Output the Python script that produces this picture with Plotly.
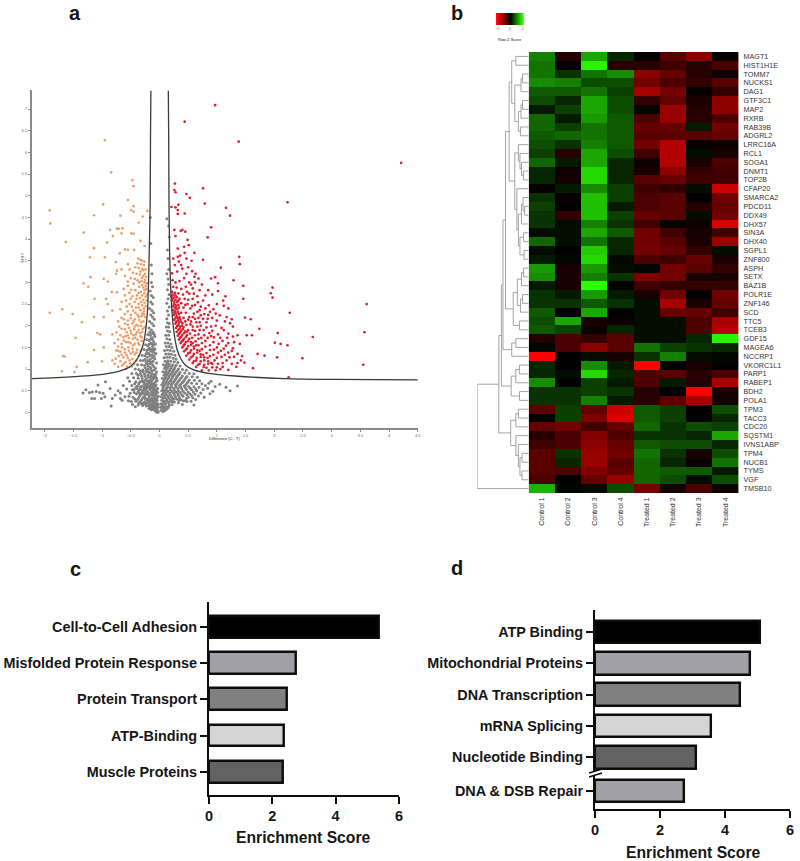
import plotly.graph_objects as go

W, H = 800, 861

# panel a: volcano plot, points as (difference, -log p)
grey_points = [
    (-.16,4.5),(-.15,3.9),(-.14,3.4),(-.13,3.2),(-.14,3.0),(-.12,2.9),(-.16,2.8),(-.14,2.7),(-.11,2.65),(-.15,2.55),
    (-.12,2.5),(-.17,2.4),(-.13,2.35),(-.1,2.3),(-.15,2.25),(-.12,2.2),(-.09,2.15),(-.17,2.1),(-.13,2.05),(-.1,2.0),
    (-.18,1.95),(-.14,1.9),(-.11,1.85),(-.2,1.8),(-.16,1.78),(-.08,1.75),(-.13,1.72),(-.22,1.68),(-.18,1.66),(-.1,1.63),
    (-.15,1.6),(-.07,1.58),(-.24,1.56),(-.2,1.53),(-.12,1.52),(-.17,1.48),(-.08,1.47),(-.27,1.45),(-.22,1.43),(-.14,1.41),
    (-.1,1.38),(-.19,1.37),(-.06,1.36),(-.3,1.32),(-.25,1.31),(-.16,1.3),(-.21,1.27),(-.12,1.26),(-.08,1.24),(-.33,1.2),
    (-.28,1.2),(-.18,1.18),(-.23,1.16),(-.14,1.15),(-.05,1.14),(-.38,1.1),(-.31,1.1),(-.26,1.08),(-.2,1.07),(-.1,1.06),
    (-.16,1.04),(-.07,1.02),(-.42,1.0),(-.36,.99),(-.29,.98),(-.23,.97),(-.13,.96),(-.18,.94),(-.05,.93),(-.48,.9),
    (-.4,.9),(-.33,.89),(-.26,.88),(-.1,.87),(-.2,.86),(-.15,.84),(-.07,.83),(-.55,.8),(-.45,.8),(-.37,.79),
    (-.3,.78),(-.23,.77),(-.12,.76),(-.17,.74),(-.04,.73),(-.52,.72),(-.41,.71),(-.34,.7),(-.27,.69),(-.09,.68),
    (-.2,.67),(-.14,.65),(-.06,.64),(-.63,.62),(-.48,.62),(-.38,.61),(-.31,.6),(-.24,.59),(-.11,.58),(-.17,.56),
    (-.03,.55),(-.57,.54),(-.44,.53),(-.35,.52),(-.28,.51),(-.08,.5),(-.21,.49),(-.14,.47),(-.05,.46),(-.68,.45),
    (-.51,.44),(-.4,.43),(-.32,.42),(-.25,.41),(-.11,.4),(-.18,.38),(-.02,.37),(-.6,.36),(-.46,.35),(-.36,.34),
    (-.29,.33),(-.07,.32),(-.22,.31),(-.15,.29),(-.04,.28),(-.54,.27),(-.41,.26),(-.33,.25),(-.26,.24),(-.1,.23),
    (-.19,.22),(-.13,.2),(-.02,.19),(-.47,.18),(-.37,.17),(-.29,.16),(-.23,.15),(-.07,.14),(-.17,.13),(-.11,.11),
    (-.04,.09),(-.14,.06),(-.08,.05),(-.03,.04),(-.06,.02),(-.02,.01),
    (-.42,.13),(-.04,.0),(-.09,.12),(-.05,.17),(-.12,.16),(-.16,.18),
    (-.2,.27),(-.24,.3),(-.27,.36),(-.22,.42),(-.15,.41),(-.09,.37),(-.06,.29),(-.06,.41),(-.09,.26),(-.13,.34),
    (-.18,.33),(-.12,.47),(-.16,.52),(-.2,.57),(-.25,.53),(-.3,.47),(-.34,.39),(-.09,.54),(-.13,.59),(-.07,.6),
    (-.16,.62),(-.22,.64),(-.27,.63),(-.33,.59),(-.39,.55),(-.1,.66),(-.14,.71),(-.18,.7),(-.25,.74),(-.31,.72),
    (-.06,.72),(-.09,.79),(-.14,.8),(-.19,.81),(-.25,.83),(-.31,.84),(-.37,.86),(-.07,.88),(-.13,.9),(-.17,.91),
    (-.22,.93),(-.28,.93),(-.33,.95),(-.09,.98),(-.15,1.0),(-.2,1.0),(-.25,1.03),(-.12,1.1),(-.17,1.12),(-.22,1.12),
    (-.11,1.18),(-.16,1.22),(-.2,1.2),(-.25,1.22),(-.09,1.3),(-.13,1.33),(-.18,1.34),(-.23,1.36),(-.09,1.44),(-.12,1.46),
    (-.16,1.44),(-.2,1.45),(-.1,1.56),(-.13,1.58),(-.18,1.57),(-.12,1.68),(-.15,1.7),(-.09,1.8),(-.13,1.82),(-.17,1.85),
    (-.05,.08),(-.08,.09),(-.11,.07),(-.15,.1),(-.18,.09),(-.03,.13),(-.06,.11),(-.1,.15),
    (-.14,.14),(-.19,.16),(-.24,.19),(-.28,.21),(-.05,.22),(-.08,.19),(-.12,.24),(-.16,.25),(-.21,.23),(-.31,.2),
    (-.36,.22),(-.04,.34),(-.08,.31),(-.11,.29),(-.17,.28),(-.25,.34),(-.31,.29),(-.38,.3),(-.43,.31),(-.49,.25),
    (-.03,.46),(-.07,.45),(-.1,.44),(-.14,.41),(-.19,.44),(-.24,.47),(-.28,.44),(-.35,.45),(-.44,.46),(-.53,.37),
    (-.05,.52),(-.11,.52),(-.15,.56),(-.19,.61),(-.23,.55),(-.27,.57),(-.33,.53),(-.37,.48),(-.41,.58),(-.47,.52),
    (-.08,.62),(-.12,.64),(-.16,.68),(-.21,.72),(-.25,.66),(-.29,.72),(-.36,.66),(-.43,.66),(-.05,.79),(-.11,.81),
    (-1.33,.45),(-1.28,.52),(-1.18,.32),(-1.17,.47),(-1.1,.48),(-1.07,.63),(-1.04,.46),(-.98,.44),(-.95,.36),(-.94,.71),
    (-.84,.15),(-.82,.32),(-.72,.5),(-.68,.32),(-.65,.28),(-1.13,.32),(-1.01,.32),(-1.22,.46),(-.86,.55),(-.77,.4),
    (.03,.05),(.06,.02),(.02,.12),(.09,.04),(.05,.1),(.12,.07),(.03,.2),(.08,.14),(.15,.1),
    (.04,.28),(.11,.2),(.17,.17),(.22,.18),(.07,.27),(.14,.26),(.2,.25),
    (.26,.24),(.33,.22),(.4,.18),(.48,.25),(.03,.36),(.1,.34),(.16,.33),(.23,.32),(.3,.31),(.37,.29),
    (.45,.27),(.55,.26),(.6,.17),(.05,.42),(.12,.41),(.19,.41),(.26,.4),(.33,.39),(.41,.37),(.5,.35),
    (.58,.34),(.68,.38),(.04,.5),(.09,.48),(.15,.49),(.22,.48),(.29,.47),(.36,.46),(.44,.45),(.53,.43),
    (.62,.42),(.72,.45),(.06,.57),(.12,.56),(.18,.57),(.25,.56),(.32,.55),(.39,.54),(.47,.53),(.56,.52),
    (.65,.5),(.76,.53),(.84,.56),(.04,.64),(.09,.63),(.15,.65),(.21,.64),(.28,.63),(.35,.62),(.43,.61),
    (.51,.6),(.6,.59),(.69,.58),(.8,.62),(.07,.71),(.13,.72),(.19,.72),(.25,.71),(.32,.7),(.4,.69),
    (.48,.68),(.56,.67),(.65,.66),(.74,.66),(.86,.67),(.05,.79),(.1,.79),(.16,.8),(.22,.79),(.29,.78),
    (.36,.77),(.44,.76),(.52,.75),(.61,.74),(.7,.73),(.08,.86),(.13,.87),(.19,.87),(.25,.86),(.32,.85),
    (.4,.84),(.48,.83),(.57,.82),(.66,.81),(.06,.94),(.11,.94),(.17,.95),(.23,.94),(.29,.93),(.36,.92),
    (.44,.91),(.52,.9),(.6,.89),(.09,1.02),(.14,1.03),(.2,1.02),(.26,1.01),(.33,1.0),(.4,.99),(.47,.97),
    (.07,1.1),(.12,1.1),(.17,1.11),(.23,1.1),(.29,1.09),(.36,1.07),(.1,1.18),(.15,1.19),(.2,1.18),(.26,1.17),
    (.32,1.15),(.08,1.26),(.13,1.27),(.18,1.27),(.24,1.25),(.29,1.23),(.11,1.35),(.16,1.35),(.21,1.34),(.27,1.32),
    (.09,1.43),(.14,1.44),(.19,1.43),(.25,1.41),(.12,1.52),(.17,1.52),(.22,1.5),(.1,1.6),(.15,1.6),(.2,1.58),
    (.13,1.7),(.18,1.68),(.11,1.78),(.16,1.78),(.14,1.88),(.18,1.86),(.12,1.97),(.16,1.97),(.14,2.07),(.17,2.05),
    (.13,2.16),(.16,2.25),(.14,2.34),(.17,2.43),(.13,2.52),(.15,2.62),(.17,2.72),(.14,2.83),(.16,2.95),(.15,3.08),
    (.13,3.2),(.16,3.3),(.15,3.55),(.14,3.75),(.17,4.05),(.16,4.3),(.13,4.47),
    (.05,.16),(.08,.09),(.12,.13),(.16,.14),(.07,.21),(.1,.25),(.16,.22),(.23,.25),
    (.06,.33),(.13,.3),(.19,.29),(.25,.31),(.34,.28),(.41,.27),(.08,.39),(.15,.37),(.21,.36),(.28,.36),
    (.35,.34),(.47,.32),(.07,.45),(.12,.46),(.18,.44),(.25,.44),(.32,.43),(.39,.41),(.48,.41),(.56,.39),
    (.07,.52),(.12,.51),(.19,.52),(.26,.51),(.33,.5),(.41,.49),(.5,.47),(.59,.47),(.07,.6),(.14,.6),
    (.21,.59),(.29,.59),(.37,.58),(.45,.57),(.54,.56),(.63,.54),(.06,.68),(.11,.68),(.17,.68),(.23,.67),
    (.3,.66),(.37,.65),(.46,.64),(.08,.75),(.14,.76),(.2,.75),(.27,.74),(.34,.73),(.42,.72),(.5,.71),
    (.11,.83),(.17,.84),(.23,.83),(.3,.81),(.38,.8),(.46,.8),(.1,.9),(.15,.91),(.21,.9),(.27,.89),
    (.34,.88),(.12,.98),(.18,.98),(.24,.97),(.31,.96),(.11,1.06),(.16,1.07),(.21,1.06),(.27,1.05),(.14,1.15),
    (1.23,.5),(1.16,.58),(1.36,.61),(.9,.72),(.97,.6),(1.05,.65),(.93,.49),(.88,.43),(.78,.35),(.63,.3),
]

red_points = [
    (.97,7.09),(.44,6.71),(1.38,6.25),(4.21,5.76),(2.23,4.85),(.27,5.28),(.76,5.17),(.26,5.13),(.28,5.08),(.47,5.04),
    (.53,4.95),(.79,4.82),(.33,4.79),(.21,4.74),(.28,4.73),(1.16,4.72),(.32,4.67),(.44,4.59),(.32,4.58),(1.23,4.54),
    (.9,4.27),(.26,4.21),(.37,4.19),(.4,4.21),(.45,4.17),(.84,4.04),(.28,4.07),(.49,3.98),(.51,3.86),(.43,3.82),
    (.32,3.78),(.61,3.68),(.44,3.68),(.32,3.59),(1.39,3.59),(.76,3.52),(1.4,3.42),(1.07,3.34),(.34,3.48),(.27,3.4),
    (.4,3.32),(.31,3.25),(.22,3.21),(1.29,3.05),(.61,3.13),(.68,3.09),(.9,3.09),(.97,3.12),(1.02,2.98),(1.46,2.92),
    (1.97,2.88),(1.94,2.75),(1.97,2.65),(1.46,2.62),(3.61,2.5),(2.27,2.3),(1.49,2.19),(1.59,2.15),(1.74,1.93),(2.06,1.83),
    (3.57,1.85),(2.67,1.74),(1.61,1.78),(1.52,1.78),(2.01,1.61),(2.11,1.58),(2.23,1.55),(2.05,1.27),(2.49,1.25),(3.55,1.1),
    (1.71,1.35),(1.83,1.31),(1.63,1.02),(2.25,.81),(.36,3.62),(.47,3.55),(.56,3.5),(.38,3.4),(.24,3.55),(.5,3.35),
    (.23,3.05),(.28,3.0),(.35,3.03),(.43,3.1),(.52,3.0),(.62,3.0),(.74,2.95),(.24,2.9),(.3,2.88),(.38,2.85),
    (.46,2.9),(.58,2.86),(.85,2.82),(1.02,2.8),(.22,2.78),(.27,2.76),(.33,2.75),(.41,2.72),(.52,2.74),(.66,2.68),
    (.92,2.72),(1.15,2.68),(.21,2.68),(.25,2.65),(.3,2.66),(.35,2.62),(.44,2.62),(.58,2.62),(.76,2.58),(1.11,2.58),
    (.22,2.58),(.26,2.55),(.31,2.55),(.38,2.52),(.49,2.5),(.62,2.48),(.86,2.47),(1.0,2.5),(1.12,2.46),(.24,2.45),
    (.29,2.44),(.34,2.42),(.42,2.42),(.54,2.4),(.7,2.36),(.94,2.38),(1.2,2.4),(.23,2.36),(.27,2.33),(.32,2.32),
    (.38,2.3),(.46,2.3),(.6,2.28),(.78,2.27),(.85,2.25),(1.05,2.24),(.25,2.25),(.3,2.22),(.35,2.2),(.42,2.18),
    (.52,2.2),(.68,2.18),(.76,2.16),(.92,2.18),(1.17,2.2),(1.26,2.15),(.26,2.14),(.32,2.12),(.37,2.1),(.45,2.1),
    (.55,2.1),(.64,2.08),(.82,2.08),(1.23,2.06),(.28,2.05),(.33,2.02),(.39,2.0),(.47,2.02),(.58,1.98),(.72,2.0),
    (.9,1.98),(1.28,1.98),(.29,1.95),(.35,1.93),(.41,1.92),(.5,1.9),(.62,1.88),(.77,1.9),(1.12,1.9),(.3,1.86),
    (.36,1.84),(.43,1.83),(.53,1.82),(.68,1.8),(.87,1.83),(1.02,1.8),(1.2,1.82),(.32,1.77),(.38,1.75),(.46,1.74),
    (.57,1.72),(.73,1.72),(.95,1.73),(1.28,1.75),(.34,1.68),(.41,1.66),(.5,1.65),(.63,1.64),(.8,1.65),(1.1,1.65),
    (1.2,1.6),(.37,1.6),(.44,1.57),(.55,1.56),(.68,1.55),(.88,1.55),(1.03,1.58),(1.4,1.58),(.4,1.5),(.48,1.47),
    (.6,1.47),(.74,1.46),(.95,1.45),(1.12,1.47),(.43,1.41),(.53,1.38),(.66,1.38),(.82,1.37),(1.02,1.38),(1.2,1.38),
    (1.36,1.35),(.47,1.31),(.58,1.3),(.72,1.28),(.88,1.3),(1.08,1.28),(1.3,1.28),(.52,1.22),(.64,1.2),(.78,1.2),
    (.96,1.2),(1.17,1.2),(1.42,1.2),(.58,1.14),(.7,1.12),(.85,1.12),(1.02,1.12),(1.26,1.12),(1.48,1.15),(.64,1.05),
    (.77,1.05),(.92,1.04),(1.1,1.05),(1.34,1.05),(.74,.97),(.98,.97),(1.2,.98),
    (.24,2.72),(.28,2.7),(.23,2.62),(.28,2.6),(.33,2.58),(.25,2.5),(.28,2.48),(.33,2.48),(.27,2.4),(.31,2.38),
    (.26,2.3),(.29,2.28),(.34,2.27),(.28,2.18),(.32,2.17),(.36,2.15),(.29,2.09),(.34,2.07),(.4,2.06),(.31,1.99),
    (.36,1.98),(.42,1.97),(.33,1.9),(.38,1.88),(.45,1.87),(.34,1.81),(.4,1.79),(.48,1.78),(.36,1.72),(.43,1.7),
    (.52,1.7),(.39,1.64),(.46,1.62),(.55,1.62),(.42,1.54),(.5,1.53),(.6,1.52),(.46,1.45),(.55,1.43),(.66,1.44),
    (.5,1.36),(.6,1.35),(.72,1.34),(.55,1.27),(.65,1.26),(.78,1.27),(.6,1.18),(.72,1.18),(.85,1.18),(.67,1.1),
    (.78,1.1),(.92,1.12),(.82,1.03),(1.0,1.04),(.86,.97),
    (.57,3.26),(.63,3.2),(.47,3.2),(.55,2.95),(.7,2.82),(.48,2.78),(.6,2.74),(.8,2.7),(.5,2.6),(.67,2.54),
    (.72,2.44),(.57,2.46),(.45,2.48),(.8,2.4),(.66,2.32),(.88,2.32),(.58,2.2),(.72,2.24),(.98,2.28),(.5,2.14),
    (.62,2.16),(.84,2.16),(1.0,2.12),(1.14,2.1),(.7,2.08),(.54,2.03),(.66,1.98),(.82,1.96),(.98,2.0),(1.08,1.95),
    (.58,1.9),(.7,1.9),(.92,1.88),(.48,1.86),(.62,1.78),(.78,1.78),(.9,1.76),(1.06,1.72),(1.18,1.72),(1.36,1.78),
    (.68,1.7),(.84,1.72),(.58,1.6),(.74,1.6),(.94,1.62),(1.16,1.54),(1.3,1.62),(.64,1.55),(.8,1.52),(1.0,1.5),
    (1.28,1.48),(.7,1.42),(.88,1.44),(1.07,1.42),(1.26,1.42),(.76,1.33),(.94,1.33),(1.14,1.33),(1.44,1.3),(.84,1.26),
    (1.0,1.26),(1.22,1.27),(.9,1.14),(1.1,1.14),(1.36,1.14),(1.06,1.0),
]

orange_points = [
    (-.95,6.28),(-.84,5.54),(-.47,5.36),(-.45,5.22),(-.55,4.9),(-.98,4.8),(-.45,4.76),(-1.91,4.66),(-.49,4.67),(-.45,4.63),
    (-.21,4.65),(-1.14,4.55),(-.68,4.54),(-.29,4.52),(-1.9,4.36),(-.36,4.38),(-.74,4.24),(-.71,4.24),(-.64,4.25),(-.86,4.21),
    (-1.32,4.15),(-.49,4.13),(-.45,4.12),(-.66,4.13),(-.81,4.07),(-1.63,3.93),(-.33,3.96),(-.91,3.92),(-.26,3.84),(-1.14,3.79),
    (-.6,3.76),(-.55,3.75),(-.44,3.75),(-.69,3.67),(-.95,3.58),(-1.21,3.58),(-.76,3.47),(-.37,3.55),(-.33,3.52),(-.3,3.5),
    (-.26,3.48),(-.38,3.44),(-.32,3.42),(-.27,3.4),(-.55,3.42),(-.42,3.35),(-.36,3.33),(-.3,3.31),(-.24,3.3),(-.74,3.27),
    (-.66,3.3),(-1.2,3.12),(-.97,3.08),(-.9,3.02),(-.4,3.2),(-.34,3.18),(-.28,3.15),(-.23,3.13),(-.5,3.1),(-.75,3.2),
    (-.38,3.05),(-.31,3.03),(-.26,3.0),(-.22,2.98),(-.45,2.97),(-1.32,2.98),(-1.24,2.9),(-.55,2.92),(-.35,2.9),(-.28,2.88),
    (-.23,2.85),(-.49,2.83),(-.42,2.82),(-.83,2.78),(-.74,2.77),(-.32,2.78),(-.26,2.75),(-.21,2.72),(-.39,2.7),(-.47,2.68),
    (-1.13,2.62),(-.93,2.62),(-.34,2.64),(-.28,2.6),(-.22,2.58),(-.58,2.58),(-.43,2.55),(-.9,2.5),(-.52,2.5),(-.36,2.5),
    (-.3,2.47),(-.24,2.45),(-1.91,2.3),(-1.69,2.38),(-.82,2.35),(-.41,2.42),(-.46,2.35),(-.33,2.36),(-.27,2.33),(-.55,2.33),
    (-1.51,2.27),(-.6,2.27),(-.38,2.25),(-.31,2.22),(-.25,2.2),(-.66,2.18),(-1.14,2.2),(-.97,2.2),(-.5,2.17),(-.43,2.15),
    (-.35,2.13),(-.28,2.1),(-1.35,2.08),(-.6,2.05),(-.47,2.05),(-.4,2.02),(-.32,2.0),(-.26,1.97),(-.53,1.95),(-.66,1.93),
    (-.44,1.92),(-.36,1.9),(-.3,1.86),(-1.08,1.83),(-1.03,1.8),(-.57,1.85),(-.49,1.82),(-.82,1.8),(-.41,1.8),(-.33,1.76),
    (-.63,1.74),(-.53,1.72),(-.46,1.7),(-1.46,1.72),(-.38,1.68),(-.31,1.65),(-.58,1.62),(-.5,1.6),(-.43,1.58),(-.35,1.56),
    (-1.14,1.44),(-.97,1.5),(-.75,1.43),(-.72,1.52),(-.65,1.5),(-.54,1.5),(-.47,1.47),(-.39,1.45),(-.33,1.42),(-.68,1.4),
    (-.6,1.38),(-.5,1.36),(-.43,1.34),(-.36,1.3),(-1.68,1.3),(-1.65,1.29),(-.71,1.3),(-.63,1.27),(-.55,1.26),(-.47,1.23),
    (-.4,1.2),(-1.25,1.16),(-1.0,1.18),(-.82,1.2),(-.68,1.18),(-.59,1.16),(-.51,1.13),(-1.44,1.05),(-.44,1.12),(-1.7,.95),
    (-1.48,.93),(-.65,1.08),(-.56,1.06),(-.72,1.05),
    (-.28,3.28),(-.33,3.25),(-.25,3.2),(-.3,3.1),(-.25,3.06),(-.35,3.0),(-.24,2.92),(-.3,2.94),(-.26,2.82),(-.36,2.76),
    (-.24,2.67),(-.3,2.7),(-.4,2.62),(-.26,2.53),(-.32,2.55),(-.48,2.44),(-.27,2.4),(-.36,2.42),(-.42,2.3),(-.3,2.28),
    (-.5,2.25),(-.27,2.26),(-.36,2.2),(-.45,2.1),(-.32,2.08),(-.55,2.12),(-.37,2.0),(-.43,1.98),(-.29,1.93),(-.5,1.88),
    (-.39,1.85),(-.34,1.83),(-.45,1.78),(-.55,1.78),(-.31,1.73),(-.42,1.72),(-.37,1.6),(-.46,1.55),(-.54,1.62),(-.4,1.38),
    (-.52,3.3),(-.46,3.22),(-.6,3.15),(-.43,3.08),(-.55,3.02),(-.62,2.85),(-.52,2.76),(-.6,2.7),(-.5,2.62),(-.66,2.55),
    (-.57,2.44),(-.68,2.38),(-.62,2.15),(-.72,2.1),(-.55,2.02),(-.7,1.98),(-.6,1.92),(-.75,1.85),(-.68,1.78),(-.59,1.76),
    (-.72,1.68),(-.62,1.66),(-.66,1.58),(-.78,1.6),(-.6,1.46),(-.53,1.42),(-.72,1.42),(-.46,1.4),(-.57,1.32),(-.66,1.33),
    (-.76,1.24),(-.52,1.2),(-.62,1.12),(-.48,1.06),(-.78,1.12),(-.58,1.0),
]

curve_right_x = [.155,.161,.167,.178,.195,.213,.236,.264,.31,.368,.454,.598,.856,1.316,2.178,3.04,4.5]
curve_right_y = [7.42,6.36,4.82,3.67,2.9,2.44,2.05,1.75,1.44,1.25,1.09,.98,.9,.84,.78,.76,.75]
curve_left_x = [-.149,-.155,-.161,-.172,-.19,-.207,-.247,-.293,-.379,-.494,-.695,-.983,-1.557,-2.22]
curve_left_y = [7.42,6.36,4.82,4.05,2.98,2.36,1.82,1.52,1.25,1.07,.95,.88,.82,.78]

volcano_x_ticks = [-2,-1.5,-1,-.5,0,.5,1,1.5,2,2.5,3,3.5,4,4.5]
volcano_y_ticks = [0,.5,1,1.5,2,2.5,3,3.5,4,4.5,5,5.5,6,6.5,7]

# panel b: heatmap
samples = ["Control 1","Control 2","Control 3","Control 4","Treated 1","Treated 2","Treated 3","Treated 4"]
genes = ["MAGT1","HIST1H1E","TOMM7","NUCKS1","DAG1","GTF3C1","MAP2","RXRB","RAB39B","ADGRL2",
         "LRRC16A","RCL1","SOGA1","DNMT1","TOP2B","CFAP20","SMARCA2","PDCD11","DDX49","DHX57",
         "SIN3A","DHX40","SGPL1","ZNF800","ASPH","SETX","BAZ1B","POLR1E","ZNF146","SCD",
         "TTC5","TCEB3","GDF15","MAGEA6","NCCRP1","VKORC1L1","PARP1","RABEP1","BDH2","POLA1",
         "TPM3","TACC3","CDC20","SQSTM1","IVNS1ABP","TPM4","NUCB1","TYMS","VGF","TMSB10"]
z_scores = [
    [1.0,-.3,1.3,.3,-.05,-.7,-1.1,-.05],
    [.9,-.05,1.9,-.3,-.3,-.5,-.3,-.6],
    [.9,.4,.9,1.1,-1.1,-.8,-.3,-.1],
    [1.1,1.0,.6,.6,-.9,-.6,-.4,-.7],
    [.7,.7,.9,.5,-1.3,-.9,-.05,-.4],
    [.6,.3,1.3,.6,-.4,-.8,-.2,-1.1],
    [.2,.5,1.3,.6,.05,-1.2,-.3,-1.1],
    [.8,.2,1.2,.7,-.6,-1.2,-.3,-.6],
    [.8,.5,.9,.7,-.8,-.8,.2,-.9],
    [.7,.8,.9,.7,-.7,-.7,-.7,-.8],
    [.6,.4,1.0,.7,-.9,-1.4,-.05,-.1],
    [.5,-.3,1.3,.6,-.5,-1.4,.1,-.2],
    [.8,.2,1.3,.3,-.1,-1.4,-.2,-.6],
    [.3,-.1,1.7,.3,-.2,-1.1,-.4,-.5],
    [.3,-.15,1.7,.3,-.7,-.8,-.5,-.5],
    [-.05,.2,1.1,.5,-.5,-.4,.1,-1.6],
    [.4,-.05,1.5,.5,-.6,-.7,0,-.9],
    [.5,0,1.5,.2,-.6,-.7,-.3,-.8],
    [.4,-.4,1.5,.5,-.8,-.7,.1,-.9],
    [.4,.1,1.0,.4,-.5,-.05,-.1,-1.7],
    [.1,.1,1.3,.7,-.9,-.5,-.2,-.5],
    [.8,.1,.9,.3,-.9,-.7,-.2,-1.2],
    [.1,0,1.6,.3,-.9,-.8,-.4,.1],
    [.2,.05,1.7,.05,-.6,-.5,-.8,-.2],
    [1.2,-.2,1.2,.1,.05,-.9,-.7,-.4],
    [1.1,-.2,1.0,.4,-1.0,-.9,-.2,-.2],
    [.2,-.2,2.0,0,-.5,-.4,-.4,-.4],
    [.4,.2,1.2,.2,-.2,-.9,0,-.9],
    [.4,.4,.7,.4,.1,-1.3,-.2,-.8],
    [.7,0,1.3,0,.1,-.8,-.8,-.5],
    [.6,1.3,-.2,-.1,.1,.1,-.6,-1.3],
    [.7,.5,-.1,.3,.1,.1,-.6,-1.4],
    [-.3,-.6,-.4,-.7,.1,.1,.3,1.9],
    [.05,-.6,-1.1,-.7,.9,.5,.4,.3],
    [-2,0,.1,-.2,.4,1.0,.1,.05],
    [.3,0,1.1,.2,-2,0,-.2,0],
    [.3,.1,1.7,.3,-.6,-.7,-.3,-.6],
    [1.1,0,.5,.2,-.6,.2,-.3,-1.3],
    [.4,.4,.5,.4,-.3,0,-2,-.2],
    [.4,.4,1.0,.2,-.3,-.7,-1.3,-.15],
    [-.7,.5,-.8,-1.6,.7,.5,0,.6],
    [0,.5,-1.0,-1.7,.7,.5,0,.3],
    [-.8,-.9,-.5,-.8,.8,.4,.6,.5],
    [-.3,-.6,-1.0,-.6,.4,.4,.3,1.3],
    [-.5,-.6,-1.1,-.8,.7,.6,.6,.3],
    [-.7,.4,-1.2,-.9,.9,.4,-.2,.6],
    [-.7,.3,-1.2,-.7,.8,.3,-.1,.9],
    [-.7,-.6,-1.0,-.8,.8,.7,.7,.2],
    [-.6,0,-.8,-1.2,.8,.6,.1,.6],
    [1.4,.05,.1,.6,-.9,-.2,-.6,-.1],
]
key_values = [-2,-1.5,-1,-.5,0,.5,1,1.5,2]
heat_colors = [[0,"#ff0000"],[.5,"#000000"],[1,"#2aff00"]]

# dendrogram as nested merges: (left, right, height), leaves are row numbers
top_rows = ((0,1,.25),(((2,3,.12),4,.15),(((5,6,.12),7,.15),(8,9,.16),.2),.27),.33)
mid_rows = ((10,(11,(12,(13,14,.1),.14),.17),.2),(15,(((16,(17,18,.08),.11),19,.14),((20,21,.1),(22,23,.09),.17),.2),.23),.27)
low_rows = ((((24,25,.1),26,.14),((27,28,.12),29,.16),.22),(30,31,.18),.3)
gdf_rows = ((32,33,.25),34,.33)
parp_rows = (((35,36,.18),37,.25),(38,39,.18),.34)
tpm_rows = (((40,41,.2),42,.25),(43,(44,((45,46,.13),(47,48,.13),.17),.2),.25),.35)
row_tree = ((((((top_rows,mid_rows,.38),low_rows,.45),gdf_rows,.5),parp_rows,.53),tpm_rows,.58),49,1.0)

# panels c and d: enrichment bars
terms_c = ["Cell-to-Cell Adhesion","Misfolded Protein Response","Protein Transport","ATP-Binding","Muscle Proteins"]
scores_c = [5.38,2.75,2.47,2.37,2.33]
colors_c = ["#000000","#a0a0a6","#808080","#d4d4d4","#626262"]
terms_d = ["ATP Binding","Mitochondrial Proteins","DNA Transcription","mRNA Splicing","Nucleotide Binding","DNA & DSB Repair"]
scores_d = [5.08,4.78,4.47,3.57,3.12,2.75]
colors_d = ["#000000","#a0a0a6","#808080","#d4d4d4","#626262","#a0a0a6"]
slots_d = [0,1,2,3,4,5.07]
score_ticks = [0,2,4,6]


def dom_x(left, right):
    return [left / W, right / W]


def dom_y(top, bottom):
    return [1 - bottom / H, 1 - top / H]


def walk_tree(node, xs, ys):
    """Returns (row position, height) of a node and adds its elbow to xs and ys."""
    if not isinstance(node, tuple):
        return node, 0
    pos_a, h_a = walk_tree(node[0], xs, ys)
    pos_b, h_b = walk_tree(node[1], xs, ys)
    h = node[2]
    xs.extend([h_a, h, h, h_b, None])
    ys.extend([pos_a, pos_a, pos_b, pos_b, None])
    return (pos_a + pos_b) / 2, h


BAR_FONT = dict(family="Liberation Sans", color="#161616")
fig = go.Figure()

# volcano
for points, color, size in [(grey_points, "#808080", 3), (orange_points, "#ee9f68", 2.7), (red_points, "#dc2030", 2.7)]:
    fig.add_trace(go.Scatter(x=[p[0] for p in points], y=[p[1] for p in points], mode="markers",
                             marker=dict(size=size, color=color), xaxis="x", yaxis="y"))
for cx, cy in [(curve_right_x, curve_right_y), (curve_left_x, curve_left_y)]:
    fig.add_trace(go.Scatter(x=cx, y=cy, mode="lines", line=dict(color="#3a3a3a", width=1.3, shape="spline", smoothing=.6),
                             xaxis="x", yaxis="y"))

# heatmap, dendrogram and key
fig.add_trace(go.Heatmap(z=z_scores, x=samples, y=genes, colorscale=heat_colors, zmin=-2, zmax=2,
                         showscale=False, xgap=0, ygap=0, xaxis="x2", yaxis="y2"))
tree_x, tree_y = [], []
walk_tree(row_tree, tree_x, tree_y)
fig.add_trace(go.Scatter(x=tree_x, y=tree_y, mode="lines", line=dict(color="#9a9a9a", width=.9), xaxis="x3", yaxis="y3"))
fig.add_trace(go.Heatmap(z=[key_values], x=key_values, colorscale=heat_colors, zmin=-2, zmax=2, zsmooth="best",
                         showscale=False, xaxis="x4", yaxis="y4"))

# bars
fig.add_trace(go.Bar(x=scores_c, y=list(range(len(terms_c))), orientation="h", width=.6,
                     marker=dict(color=colors_c, line=dict(color="#0c0c0c", width=2.4)), xaxis="x5", yaxis="y5"))
fig.add_trace(go.Bar(x=scores_d, y=slots_d, orientation="h", width=.72,
                     marker=dict(color=colors_d, line=dict(color="#0c0c0c", width=2.4)), xaxis="x6", yaxis="y6"))

small_font = dict(family="Liberation Sans", size=4, color="#666666")
fig.update_layout(
    width=W, height=H, margin=dict(l=0, r=0, t=0, b=0), paper_bgcolor="white", plot_bgcolor="white",
    showlegend=False, bargap=0,
    xaxis=dict(domain=dom_x(28, 418), anchor="y", range=[-2.224, 4.5], tickvals=volcano_x_ticks, showgrid=False, zeroline=False,
               showline=True, linecolor="#8a8a8a", linewidth=1.6, ticks="outside", ticklen=2, tickcolor="#8a8a8a", tickfont=small_font),
    yaxis=dict(domain=dom_y(90, 428), anchor="x", range=[-.36, 7.44], tickvals=volcano_y_ticks, showgrid=False, zeroline=False,
               showline=True, linecolor="#8a8a8a", linewidth=1.6, ticks="outside", ticklen=2, tickcolor="#8a8a8a", tickfont=small_font),
    xaxis2=dict(domain=dom_x(530, 742), anchor="y2", showgrid=False, ticks="", showline=False, tickangle=-90, ticklabelstandoff=2,
                tickfont=dict(family="Liberation Sans", size=7, color="#333333")),
    yaxis2=dict(domain=dom_y(52, 493), anchor="x2", side="right", autorange="reversed", showgrid=False, ticks="", showline=False,
                dtick=1, ticklabelstandoff=4, tickfont=dict(family="Liberation Sans", size=7.2, color="#333333")),
    xaxis3=dict(domain=dom_x(478, 530), anchor="y3", range=[1, 0], visible=False),
    yaxis3=dict(domain=dom_y(52, 493), anchor="x3", range=[49.5, -.5], visible=False),
    xaxis4=dict(domain=dom_x(497, 525), anchor="y4", range=[-2.2, 2.2], tickvals=[-2, 0, 2], ticks="", showgrid=False, tickfont=small_font),
    yaxis4=dict(domain=dom_y(13, 25), anchor="x4", visible=False),
    xaxis5=dict(domain=dom_x(207, 399), anchor="y5", range=[0, 6], tickvals=score_ticks, showgrid=False, zeroline=False,
                showline=True, linecolor="#0c0c0c", linewidth=2, ticks="outside", ticklen=7, tickwidth=2, tickcolor="#0c0c0c",
                tickfont=dict(size=14.5, weight=700, **BAR_FONT)),
    yaxis5=dict(domain=dom_y(602, 795), anchor="x5", range=[4.64, -.68], tickvals=list(range(len(terms_c))), ticktext=terms_c,
                showgrid=False, zeroline=False, showline=True, linecolor="#0c0c0c", linewidth=2, ticks="outside", ticklen=7,
                tickwidth=2, tickcolor="#0c0c0c", tickfont=dict(size=14.4, weight=700, **BAR_FONT)),
    xaxis6=dict(domain=dom_x(597, 794), anchor="y6", range=[0, 6], tickvals=score_ticks, showgrid=False, zeroline=False,
                showline=True, linecolor="#0c0c0c", linewidth=2, ticks="outside", ticklen=7, tickwidth=2, tickcolor="#0c0c0c",
                tickfont=dict(size=14.5, weight=700, **BAR_FONT)),
    yaxis6=dict(domain=dom_y(610, 809), anchor="x6", range=[5.65, -.7], tickvals=slots_d, ticktext=terms_d,
                showgrid=False, zeroline=False, showline=True, linecolor="#0c0c0c", linewidth=2, ticks="outside", ticklen=7,
                tickwidth=2, tickcolor="#0c0c0c", tickfont=dict(size=14.4, weight=700, **BAR_FONT)),
)

labels = [("a", 72, 13, 20, 700), ("b", 458, 13, 20, 700), ("c", 72, 569, 20, 700), ("d", 458, 568, 20, 700),
          ("Difference (C - T)", 223, 438, 4, 400), ("Row Z Score", 511, 40, 4, 400),
          ("Enrichment Score", 303, 837, 15.7, 700), ("Enrichment Score", 696, 852, 15.7, 700)]
for text, px, py, size, weight in labels:
    fig.add_annotation(text=text, x=px / W, y=1 - py / H, xref="paper", yref="paper", showarrow=False,
                       xanchor="center", yanchor="middle",
                       font=dict(family="Liberation Sans", size=size, weight=weight, color="#161616"))
fig.add_annotation(text="-Log p", x=17 / W, y=1 - 258 / H, xref="paper", yref="paper", showarrow=False, textangle=-90,
                   xanchor="center", yanchor="middle", font=small_font)

# axis break on panel d
fig.add_shape(type="rect", xref="paper", yref="paper", x0=594 / W, x1=601 / W, y0=1 - 775 / H, y1=1 - 771 / H,
              fillcolor="white", line_width=0)
for offset in (0, 4):
    fig.add_shape(type="line", xref="paper", yref="paper", x0=591 / W, x1=604 / W,
                  y0=1 - (773 + offset) / H, y1=1 - (769 + offset) / H, line=dict(color="#0c0c0c", width=1.5))

# the photographed page has the browser's default 8px body margin otherwise
fig.write_html("out.html", config={"displayModeBar": False}, post_script="document.body.style.margin='0';")
